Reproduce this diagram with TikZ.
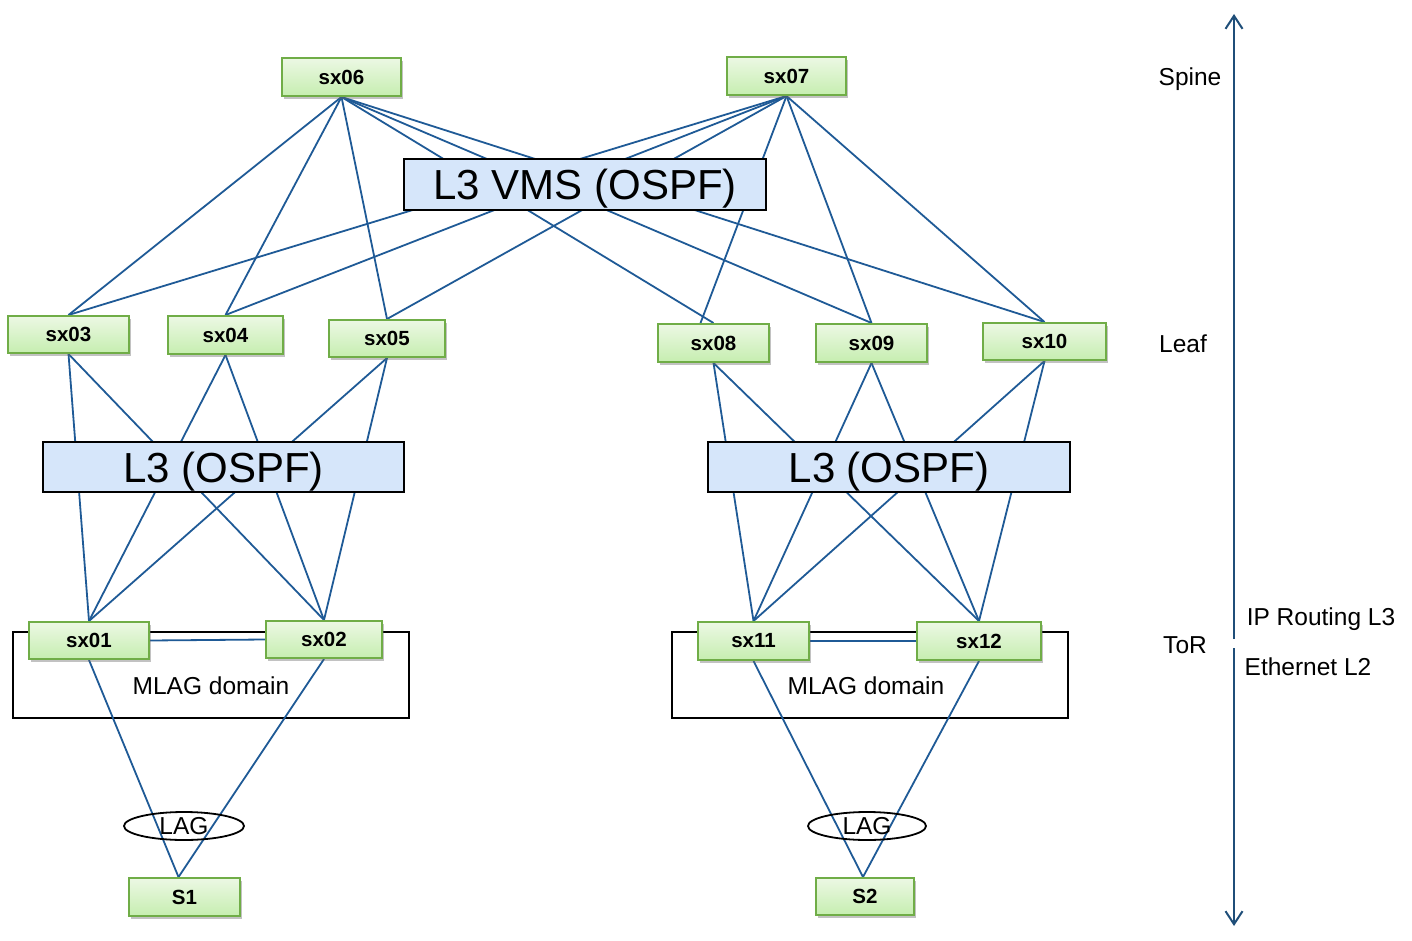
\documentclass[tikz,border=0pt]{standalone}
\usepackage{fontspec}
\setmainfont{Liberation Sans}
\usetikzlibrary{shadows,arrows.meta,shapes.geometric}
\definecolor{gborder}{RGB}{112,173,71}
\definecolor{gtop}{RGB}{236,248,228}
\definecolor{gbot}{RGB}{198,238,176}
\definecolor{bfill}{RGB}{214,230,250}
\definecolor{lnk}{RGB}{31,90,150}
\definecolor{axc}{RGB}{31,78,121}
\pgfdeclarelayer{bg}
\pgfsetlayers{bg,main}
\tikzset{
  gbox/.style={draw=gborder, line width=2pt, top color=gtop, bottom color=gbot,
    inner sep=0pt, font=\bfseries\fontsize{20.5}{24}\selectfont,
    drop shadow={shadow xshift=2pt, shadow yshift=-3pt, opacity=0.4, fill=black!60}},
  bbox/.style={draw=black, line width=2pt, fill=bfill, inner sep=0pt,
    text depth=0pt, font=\fontsize{42}{48}\selectfont},
  mlag/.style={draw=black, line width=2pt, inner sep=0pt},
  lagell/.style={draw=black, line width=1.8pt, ellipse, inner sep=0pt,
    font=\fontsize{24.5}{28}\selectfont},
  lbl/.style={font=\fontsize{24.5}{28}\selectfont, inner sep=0pt},
  lnk/.style={draw=lnk, line width=1.8pt},
  axis/.style={draw=axc, line width=2.5pt, -{Straight Barb[length=13pt,width=17pt,line width=2pt]}}
}
\begin{document}
\begin{tikzpicture}[x=1pt,y=-1pt]
\useasboundingbox (0,0) rectangle (1412,941);
% spine
\node[gbox, minimum width=119, minimum height=38] (sx06) at (341.5,77) {sx06};
\node[gbox, minimum width=119, minimum height=38] (sx07) at (786.5,76) {sx07};
% leaf
\node[gbox, minimum width=121, minimum height=37] (sx03) at (68.5,334.5) {sx03};
\node[gbox, minimum width=115, minimum height=38] (sx04) at (225.5,335) {sx04};
\node[gbox, minimum width=116, minimum height=37] (sx05) at (387,338.5) {sx05};
\node[gbox, minimum width=111, minimum height=38] (sx08) at (713.5,343) {sx08};
\node[gbox, minimum width=111, minimum height=38] (sx09) at (871.5,343) {sx09};
\node[gbox, minimum width=123, minimum height=37] (sx10) at (1044.5,341.5) {sx10};
% tor
\node[gbox, minimum width=120, minimum height=37] (sx01) at (89,640.5) {sx01};
\node[gbox, minimum width=116, minimum height=37] (sx02) at (324,639.5) {sx02};
\node[gbox, minimum width=111, minimum height=38] (sx11) at (753.5,641) {sx11};
\node[gbox, minimum width=124, minimum height=38] (sx12) at (979,641) {sx12};
% servers
\node[gbox, minimum width=111, minimum height=38] (S1) at (184.5,897) {S1};
\node[gbox, minimum width=98, minimum height=37] (S2) at (865,896.5) {S2};
% blue boxes
\node[bbox, minimum width=362, minimum height=51] (vms) at (585,184.5) {L3 VMS (OSPF)};
\node[bbox, minimum width=361, minimum height=50] (l3a) at (223.5,467) {L3 (OSPF)};
\node[bbox, minimum width=362, minimum height=50] (l3b) at (889,467) {L3 (OSPF)};
% LAG
\node[lagell, minimum width=120, minimum height=28] (lag1) at (184,826) {LAG};
\node[lagell, minimum width=118, minimum height=28] (lag2) at (867,826) {LAG};
\begin{pgfonlayer}{bg}
\node[mlag, minimum width=396, minimum height=86] (m1) at (211,675) {};
\node[mlag, minimum width=396, minimum height=86] (m2) at (870,675) {};
% spine-leaf
\foreach \s in {sx06,sx07}{
  \foreach \l in {sx03,sx04,sx05,sx09,sx10}{
    \draw[lnk] (\s.south) -- (\l.north);
  }
}
\draw[lnk] (sx06.south) -- (sx08.north);
\draw[lnk] (sx07.south) -- ([xshift=-13pt]sx08.north);
% leaf-tor
\foreach \l in {sx03,sx04,sx05}{
  \draw[lnk] (\l.south) -- (sx01.north);
  \draw[lnk] (\l.south) -- (sx02.north);
}
\foreach \l in {sx08,sx09,sx10}{
  \draw[lnk] (\l.south) -- (sx11.north);
  \draw[lnk] (\l.south) -- (sx12.north);
}
% peer links
\draw[lnk] (sx01.east) -- (sx02.west);
\draw[lnk] (sx11.east) -- (sx12.west);
% tor-server
\draw[lnk] (sx01.south) -- ([xshift=-6pt]S1.north);
\draw[lnk] (sx02.south) -- ([xshift=-6pt]S1.north);
\draw[lnk] (sx11.south) -- ([xshift=-2pt]S2.north);
\draw[lnk] (sx12.south) -- ([xshift=-2pt]S2.north);
\end{pgfonlayer}
% texts in MLAG
\node[lbl] (mt1) at (211,686) {MLAG domain};
\node[lbl] (mt2) at (866,686) {MLAG domain};
% layer labels
\node[lbl] (spine) at (1190,79) {Spine};
\node[lbl] (leaf) at (1183,344) {Leaf};
\node[lbl] (tor) at (1185,645) {ToR};
\node[lbl] (iprt) at (1321,619) {IP Routing L3};
\node[lbl] (eth) at (1308,667) {Ethernet L2};
% axis
\coordinate (axtop) at (1234,14);
\coordinate (axup) at (1234,639);
\coordinate (axdn) at (1234,648);
\coordinate (axbot) at (1234,926);
\draw[axis] (axup) -- (axtop);
\draw[axis] (axdn) -- (axbot);
\end{tikzpicture}
\end{document}
